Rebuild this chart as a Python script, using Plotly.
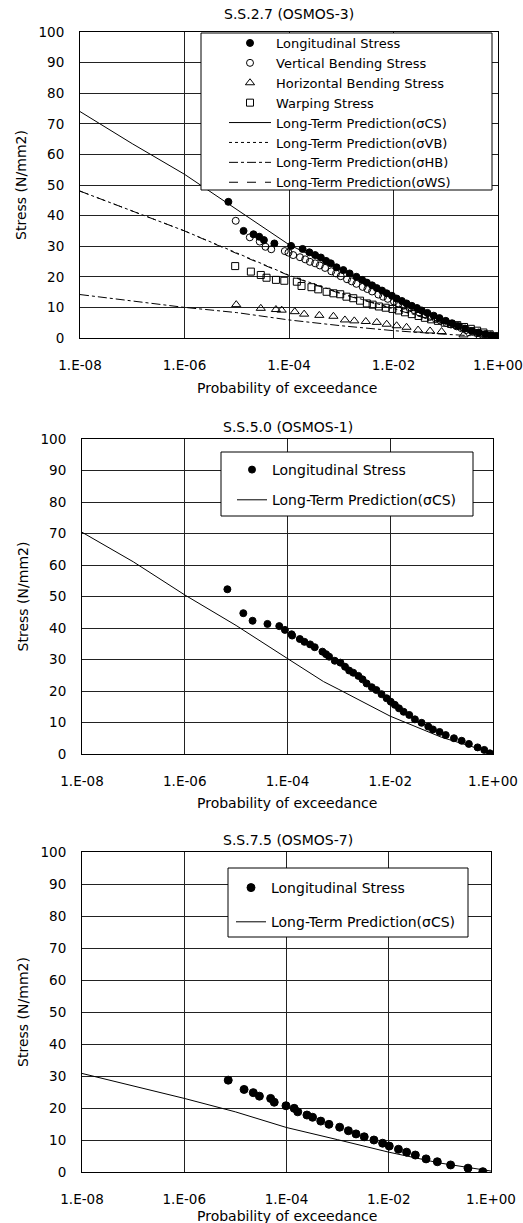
import numpy as np
import plotly.graph_objects as go

FONT = "DejaVu Sans, Verdana, sans-serif"

# ---------------- Panel 1: S.S.2.7 (OSMOS-3) ----------------
# exceedance probabilities are given as log10 exponents
p1_long_exp = [-5.16, -4.87, -4.68, -4.57, -4.48, -4.28, -3.96, -3.74, -3.61, -3.50, -3.39, -3.29,
               -3.20, -3.09, -2.96, -2.84, -2.71, -2.60, -2.51, -2.41, -2.32, -2.22, -2.13, -2.03,
               -1.94, -1.84, -1.75, -1.65, -1.55, -1.46, -1.35, -1.23, -1.12, -1.00, -0.88, -0.76,
               -0.63, -0.50, -0.37, -0.24, -0.14, -0.03]
p1_long_val = [44.5, 35.0, 33.9, 33.1, 32.0, 30.9, 30.1, 29.1, 28.0, 27.1, 26.3, 25.2,
               24.4, 23.1, 22.2, 21.1, 20.0, 19.0, 18.1, 17.2, 16.3, 15.5, 14.6, 13.8,
               12.9, 12.1, 11.3, 10.5, 9.8, 9.0, 8.2, 7.3, 6.5, 5.6, 4.8, 3.9,
               3.1, 2.3, 1.8, 1.3, 0.9, 0.5]

p1_vb_exp = [-5.02, -4.75, -4.56, -4.45, -4.34, -4.08, -4.01, -3.92, -3.79, -3.69, -3.60, -3.50,
             -3.41, -3.31, -3.19, -3.10, -3.01, -2.89, -2.80, -2.71, -2.59, -2.50, -2.41, -2.29,
             -2.20, -2.11, -1.99, -1.90, -1.81, -1.69, -1.60, -1.51, -1.39, -1.30, -1.19, -1.10,
             -0.99, -0.90, -0.79, -0.70, -0.61, -0.49, -0.40, -0.31, -0.19, -0.10, -0.03]
p1_vb_val = [38.3, 32.9, 31.5, 29.8, 29.0, 28.4, 27.9, 27.1, 26.4, 25.7, 24.9, 24.4,
             23.7, 22.9, 21.8, 21.1, 20.2, 19.2, 18.5, 17.7, 16.7, 16.0, 15.2, 14.2,
             13.5, 12.8, 11.9, 11.2, 10.6, 9.7, 9.1, 8.4, 7.6, 6.9, 6.2, 5.7,
             4.9, 4.4, 3.8, 3.2, 2.6, 2.0, 1.6, 1.2, 0.7, 0.4, 0.2]

p1_hb_exp = [-5.01, -4.54, -4.25, -4.14, -3.89, -3.71, -3.42, -3.15, -2.93, -2.75, -2.53, -2.32,
             -2.13, -1.94, -1.75, -1.53, -1.30, -1.08, -0.66, -0.34, -0.06]
p1_hb_val = [10.9, 9.7, 9.3, 9.1, 8.6, 7.8, 7.4, 7.1, 5.9, 5.6, 5.4, 5.1,
             4.5, 4.0, 3.5, 2.6, 2.3, 2.1, 1.0, 0.5, 0.3]

p1_ws_exp = [-5.03, -4.73, -4.54, -4.43, -4.25, -4.09, -3.85, -3.76, -3.57, -3.44, -3.28, -3.15,
             -3.02, -2.90, -2.77, -2.64, -2.51, -2.40, -2.28, -2.15, -2.02, -1.90, -1.78, -1.65,
             -1.52, -1.40, -1.28, -1.15, -1.02, -0.90, -0.78, -0.65, -0.52, -0.40, -0.28, -0.16, -0.05]
p1_ws_val = [23.5, 21.7, 20.6, 19.7, 19.0, 18.7, 18.4, 17.0, 16.6, 15.9, 15.1, 14.6,
             14.3, 13.5, 13.0, 12.2, 11.3, 10.9, 10.3, 9.9, 9.5, 9.0, 8.4, 7.8,
             7.2, 6.6, 6.1, 5.6, 5.0, 4.6, 4.2, 3.6, 3.0, 2.4, 1.8, 1.2, 0.6]

p1_pred_exp = [-8, -7, -6, -5, -4, -3, -2, -1, 0]
p1_pred_cs = [74.0, 63.5, 53.5, 42.0, 30.5, 22.2, 13.5, 6.0, 0.5]
p1_pred_vb = [48.0, 41.5, 35.0, 27.8, 20.5, 14.6, 9.6, 4.7, 0.5]
p1_pred_hb = [14.2, 12.0, 10.0, 8.3, 5.9, 4.0, 2.4, 1.2, 0.3]
p1_pred_ws = [48.0, 41.5, 35.0, 27.6, 20.4, 14.4, 9.4, 4.6, 0.5]

# ---------------- Panel 2: S.S.5.0 (OSMOS-1) ----------------
p2_long_exp = [-5.17, -4.86, -4.68, -4.39, -4.16, -4.05, -3.92, -3.91, -3.76, -3.67, -3.56, -3.47,
               -3.32, -3.25, -3.19, -3.08, -2.97, -2.88, -2.80, -2.72, -2.62, -2.54, -2.46, -2.36,
               -2.27, -2.17, -2.07, -1.99, -1.91, -1.83, -1.74, -1.63, -1.52, -1.39, -1.26, -1.17,
               -1.04, -0.92, -0.76, -0.61, -0.47, -0.30, -0.17, -0.06]
p2_long_val = [52.3, 44.7, 42.3, 41.3, 40.6, 39.4, 38.0, 37.6, 36.5, 35.6, 34.8, 33.9,
               32.5, 31.7, 30.9, 29.6, 29.0, 27.7, 26.5, 25.8, 24.8, 23.7, 22.4, 21.2,
               20.3, 19.0, 17.7, 16.6, 15.6, 14.5, 13.4, 12.4, 11.0, 9.9, 8.7, 7.8,
               7.0, 6.0, 5.0, 4.2, 3.2, 2.1, 1.3, 0.2]
p2_pred_exp = [-8, -7, -6, -5, -4, -3.3, -3, -2, -1, -0.5, 0]
p2_pred_cs = [70.4, 61.0, 50.5, 40.8, 30.3, 23.0, 20.5, 12.0, 5.3, 2.8, 0.3]

# ---------------- Panel 3: S.S.7.5 (OSMOS-7) ----------------
p3_long_exp = [-5.14, -4.83, -4.65, -4.53, -4.31, -4.24, -4.01, -3.85, -3.78, -3.60, -3.49, -3.33,
               -3.17, -2.96, -2.79, -2.64, -2.48, -2.29, -2.12, -1.99, -1.81, -1.65, -1.48, -1.27,
               -1.05, -0.79, -0.45, -0.16]
p3_long_val = [28.7, 25.8, 24.8, 23.7, 23.0, 21.8, 20.7, 19.9, 18.8, 17.8, 17.1, 15.9,
               14.9, 14.0, 12.9, 11.9, 11.0, 10.0, 9.0, 8.1, 7.1, 6.2, 5.3, 4.1,
               3.2, 2.2, 1.2, 0.1]
p3_pred_exp = [-8, -7, -6, -5, -4, -3, -2, -1, 0]
p3_pred_cs = [30.8, 27.0, 23.0, 18.8, 13.9, 10.1, 6.2, 2.8, 0.3]

titles = ["S.S.2.7 (OSMOS-3)", "S.S.5.0 (OSMOS-1)", "S.S.7.5 (OSMOS-7)"]
tick_vals = [1e-8, 1e-6, 1e-4, 1e-2, 1.0]
tick_text = ["1.E-08", "1.E-06", "1.E-04", "1.E-02", "1.E+00"]
x_title = "Probability of exceedance"
y_title = "Stress (N/mm2)"

W, H = 523, 1223
# pixel boxes of the three plot areas: (left, right, top, bottom)
boxes = [(80, 498, 32, 338), (82, 493, 439, 754), (82, 491, 852, 1172)]
# legend frames (left, right, top, bottom), legend anchor (left x, top y), item width, gaps
legend_frames = [(201, 492, 33, 190), (221, 473, 452, 516), (228, 468, 868, 937)]
legend_anchor = [(224, 28), (232, 454), (231, 872)]
legend_itemw = [42, 30, 30]
legend_gaps = [0, 9, 13]
legend_fs = [13, 14, 14]


def X(e):
    return 10.0 ** np.array(e, dtype=float)


fig = go.Figure()
BLACK = "black"


def pts(xe, yv, sym, size, name, ax, leg):
    fig.add_trace(go.Scatter(
        x=X(xe), y=yv, mode="markers", name=name,
        marker=dict(symbol=sym, size=size, color=BLACK, line=dict(color=BLACK, width=1)),
        xaxis=ax[0], yaxis=ax[1], legend=leg, legendgroup=name + leg))


def ln(xe, yv, dash, name, ax, leg):
    fig.add_trace(go.Scatter(
        x=X(xe), y=yv, mode="lines", name=name,
        line=dict(color=BLACK, width=1, dash=dash),
        xaxis=ax[0], yaxis=ax[1], legend=leg, legendgroup=name + leg))


a1, a2, a3 = ("x", "y"), ("x2", "y2"), ("x3", "y3")

pts(p1_long_exp, p1_long_val, "circle", 7, "Longitudinal Stress", a1, "legend")
pts(p1_vb_exp, p1_vb_val, "circle-open", 7, "Vertical Bending Stress", a1, "legend")
pts(p1_hb_exp, p1_hb_val, "triangle-up-open", 8, "Horizontal Bending Stress", a1, "legend")
pts(p1_ws_exp, p1_ws_val, "square-open", 7, "Warping Stress", a1, "legend")
ln(p1_pred_exp, p1_pred_cs, "solid", "Long-Term Prediction(σCS)", a1, "legend")
ln(p1_pred_exp, p1_pred_vb, "dot", "Long-Term Prediction(σVB)", a1, "legend")
ln(p1_pred_exp, p1_pred_hb, "dashdot", "Long-Term Prediction(σHB)", a1, "legend")
ln(p1_pred_exp, p1_pred_ws, "dash", "Long-Term Prediction(σWS)", a1, "legend")

pts(p2_long_exp, p2_long_val, "circle", 7, "Longitudinal Stress", a2, "legend2")
ln(p2_pred_exp, p2_pred_cs, "solid", "Long-Term Prediction(σCS)", a2, "legend2")

pts(p3_long_exp, p3_long_val, "circle", 8, "Longitudinal Stress", a3, "legend3")
ln(p3_pred_exp, p3_pred_cs, "solid", "Long-Term Prediction(σCS)", a3, "legend3")

layout = dict(
    width=W, height=H, margin=dict(l=0, r=0, t=0, b=0),
    paper_bgcolor="white", plot_bgcolor="white",
    font=dict(family=FONT, size=13, color=BLACK),
    showlegend=True,
)

annotations = []
shapes = []
title_pos = [(289, 14), (288, 427), (288, 840)]
xt_pos = [(287, 388), (287, 803), (287, 1216)]
for i, (l, r, t, b) in enumerate(boxes):
    sx = "" if i == 0 else str(i + 1)
    layout["xaxis" + sx] = dict(
        type="log", range=[-8, 0], domain=[l / W, r / W], anchor="y" + sx,
        tickvals=tick_vals, ticktext=tick_text, ticks="", ticklabelstandoff=15,
        showgrid=True, gridcolor="#222", gridwidth=1, zeroline=False,
        showline=True, linecolor=BLACK, linewidth=1, mirror=True, automargin=False,
        tickfont=dict(size=13.5))
    layout["yaxis" + sx] = dict(
        range=[0, 100], dtick=10, domain=[1 - b / H, 1 - t / H], anchor="x" + sx,
        ticks="", ticklabelstandoff=12, automargin=False,
        showgrid=True, gridcolor="#222", gridwidth=1, zeroline=False,
        showline=True, linecolor=BLACK, linewidth=1, mirror=True,
        tickfont=dict(size=13.5),
        title=dict(text=y_title, font=dict(size=14), standoff=8))
    annotations.append(dict(text=titles[i], x=title_pos[i][0] / W, y=1 - title_pos[i][1] / H,
                            xref="paper", yref="paper", showarrow=False,
                            xanchor="center", yanchor="middle", font=dict(size=14)))
    annotations.append(dict(text=x_title, x=xt_pos[i][0] / W, y=1 - xt_pos[i][1] / H,
                            xref="paper", yref="paper", showarrow=False,
                            xanchor="center", yanchor="middle", font=dict(size=14)))
    fl, fr, ft, fb = legend_frames[i]
    shapes.append(dict(type="rect", xref="paper", yref="paper",
                       x0=fl / W, x1=fr / W, y0=1 - fb / H, y1=1 - ft / H,
                       fillcolor="white", line=dict(color=BLACK, width=1), layer="above"))
    lname = "legend" if i == 0 else "legend%d" % (i + 1)
    layout[lname] = dict(x=legend_anchor[i][0] / W, y=1 - legend_anchor[i][1] / H,
                         xanchor="left", yanchor="top",
                         bgcolor="rgba(0,0,0,0)", borderwidth=0,
                         font=dict(size=legend_fs[i]), tracegroupgap=legend_gaps[i],
                         itemwidth=legend_itemw[i])

layout["annotations"] = annotations
layout["shapes"] = shapes

fig.update_layout(**layout)
fig.write_html("out.html")
